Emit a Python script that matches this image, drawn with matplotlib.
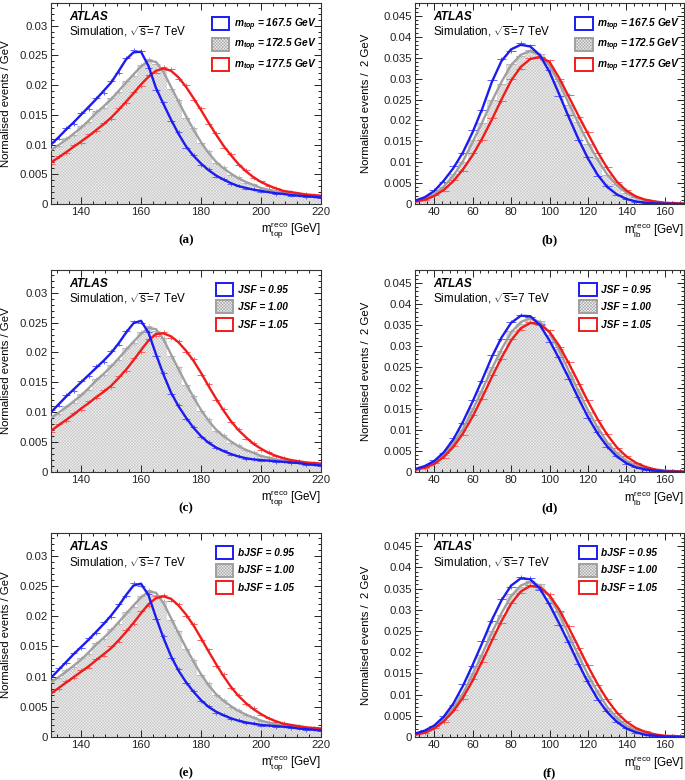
import numpy as np
import matplotlib
matplotlib.use("Agg")
import matplotlib.pyplot as plt
from matplotlib.patches import Patch
from matplotlib.ticker import MultipleLocator, AutoMinorLocator, FuncFormatter

plt.rcParams['font.family'] = ['Liberation Sans', 'DejaVu Sans']
plt.rcParams['mathtext.fontset'] = 'custom'
plt.rcParams['mathtext.rm'] = 'Liberation Sans'
plt.rcParams['mathtext.it'] = 'Liberation Sans:italic:bold'
plt.rcParams['mathtext.bf'] = 'Liberation Sans:bold'
plt.rcParams['hatch.linewidth'] = 0.35

# ---------------- data: m_top^reco (x = 130 ... 220, step 2.5 GeV) -------------
mtop_x = np.arange(130, 220.1, 2.5)

mtop_nom_fit = [0.0091, 0.0099, 0.0108, 0.0118, 0.0128, 0.0140, 0.0153, 0.0164, 0.0176, 0.0190,
                0.0204, 0.0218, 0.0231, 0.0241, 0.0239, 0.0222, 0.0197, 0.0172, 0.0148, 0.0125,
                0.0104, 0.0086, 0.0071, 0.0060, 0.0051, 0.0043, 0.0037, 0.0032, 0.0027, 0.0024,
                0.0021, 0.0019, 0.0017, 0.0016, 0.0015, 0.0014, 0.0013]
mtop_nom_data = [0.0094, 0.0097, 0.0111, 0.0116, 0.0131, 0.0138, 0.0156, 0.0162, 0.0179, 0.0188,
                 0.0207, 0.0216, 0.0234, 0.0244, 0.0236, 0.0225, 0.0194, 0.0175, 0.0145, 0.0128,
                 0.0102, 0.0089, 0.0069, 0.0062, 0.0049, 0.0045, 0.0036, 0.0033, 0.0026, 0.0025,
                 0.0020, 0.0020, 0.0016, 0.0017, 0.0014, 0.0015, 0.0012]

# (a) m_top variations
a_blue_fit = [0.0100, 0.0112, 0.0125, 0.0137, 0.0150, 0.0163, 0.0176, 0.0190, 0.0204, 0.0223,
              0.0243, 0.0255, 0.0256, 0.0232, 0.0195, 0.0168, 0.0142, 0.0118, 0.0097, 0.0081,
              0.0068, 0.0057, 0.0048, 0.0041, 0.0035, 0.0030, 0.0027, 0.0024, 0.0022, 0.0020,
              0.0018, 0.0017, 0.0015, 0.0014, 0.0013, 0.0012, 0.0011]
a_blue_data = [0.0104, 0.0110, 0.0128, 0.0135, 0.0153, 0.0160, 0.0179, 0.0187, 0.0207, 0.0220,
               0.0246, 0.0259, 0.0258, 0.0229, 0.0192, 0.0171, 0.0139, 0.0121, 0.0095, 0.0083,
               0.0066, 0.0059, 0.0046, 0.0042, 0.0034, 0.0031, 0.0026, 0.0025, 0.0021, 0.0021,
               0.0017, 0.0018, 0.0014, 0.0015, 0.0012, 0.0013, 0.0010]
a_red_fit = [0.0070, 0.0078, 0.0087, 0.0096, 0.0105, 0.0114, 0.0124, 0.0134, 0.0145, 0.0158,
             0.0172, 0.0186, 0.0201, 0.0214, 0.0224, 0.0228, 0.0224, 0.0213, 0.0197, 0.0178,
             0.0158, 0.0137, 0.0117, 0.0098, 0.0082, 0.0067, 0.0055, 0.0045, 0.0037, 0.0031,
             0.0026, 0.0022, 0.0020, 0.0018, 0.0016, 0.0015, 0.0014]
a_red_data = [0.0068, 0.0081, 0.0085, 0.0099, 0.0103, 0.0117, 0.0122, 0.0137, 0.0143, 0.0161,
              0.0170, 0.0189, 0.0198, 0.0217, 0.0221, 0.0231, 0.0227, 0.0210, 0.0200, 0.0175,
              0.0161, 0.0134, 0.0120, 0.0095, 0.0084, 0.0065, 0.0057, 0.0044, 0.0038, 0.0030,
              0.0027, 0.0021, 0.0021, 0.0017, 0.0017, 0.0014, 0.0015]

# (c) JSF variations
c_blue_fit = [0.0100, 0.0113, 0.0126, 0.0138, 0.0150, 0.0162, 0.0174, 0.0186, 0.0199, 0.0215,
              0.0233, 0.0249, 0.0253, 0.0233, 0.0197, 0.0163, 0.0133, 0.0110, 0.0091, 0.0074,
              0.0060, 0.0049, 0.0041, 0.0035, 0.0030, 0.0026, 0.0023, 0.0021, 0.0020, 0.0019,
              0.0018, 0.0017, 0.0016, 0.0015, 0.0013, 0.0012, 0.0011]
c_blue_data = [0.0103, 0.0111, 0.0129, 0.0136, 0.0153, 0.0160, 0.0177, 0.0184, 0.0202, 0.0213,
               0.0236, 0.0252, 0.0250, 0.0235, 0.0194, 0.0166, 0.0130, 0.0112, 0.0089, 0.0076,
               0.0058, 0.0051, 0.0040, 0.0036, 0.0029, 0.0027, 0.0022, 0.0022, 0.0019, 0.0020,
               0.0017, 0.0018, 0.0015, 0.0016, 0.0012, 0.0013, 0.0010]
c_red_fit = [0.0069, 0.0078, 0.0087, 0.0096, 0.0106, 0.0115, 0.0125, 0.0134, 0.0144, 0.0157,
             0.0171, 0.0187, 0.0204, 0.0220, 0.0231, 0.0232, 0.0227, 0.0217, 0.0203, 0.0186,
             0.0166, 0.0144, 0.0123, 0.0103, 0.0085, 0.0070, 0.0058, 0.0047, 0.0039, 0.0032,
             0.0027, 0.0023, 0.0020, 0.0018, 0.0016, 0.0015, 0.0014]
c_red_data = [0.0067, 0.0081, 0.0085, 0.0099, 0.0104, 0.0118, 0.0123, 0.0137, 0.0142, 0.0160,
              0.0169, 0.0190, 0.0201, 0.0223, 0.0228, 0.0235, 0.0224, 0.0220, 0.0200, 0.0189,
              0.0163, 0.0147, 0.0120, 0.0106, 0.0083, 0.0072, 0.0056, 0.0049, 0.0037, 0.0034,
              0.0026, 0.0024, 0.0019, 0.0019, 0.0015, 0.0016, 0.0013]

# (e) bJSF variations
e_blue_fit = [0.0098, 0.0111, 0.0124, 0.0137, 0.0149, 0.0161, 0.0174, 0.0187, 0.0201, 0.0217,
              0.0235, 0.0251, 0.0254, 0.0235, 0.0198, 0.0164, 0.0134, 0.0110, 0.0091, 0.0075,
              0.0061, 0.0050, 0.0042, 0.0036, 0.0031, 0.0027, 0.0024, 0.0022, 0.0020, 0.0019,
              0.0018, 0.0017, 0.0016, 0.0014, 0.0013, 0.0012, 0.0011]
e_blue_data = [0.0096, 0.0114, 0.0122, 0.0140, 0.0147, 0.0164, 0.0172, 0.0190, 0.0199, 0.0220,
               0.0233, 0.0255, 0.0251, 0.0237, 0.0195, 0.0167, 0.0131, 0.0113, 0.0089, 0.0077,
               0.0059, 0.0052, 0.0040, 0.0037, 0.0030, 0.0028, 0.0023, 0.0023, 0.0019, 0.0020,
               0.0017, 0.0018, 0.0015, 0.0015, 0.0012, 0.0013, 0.0010]
e_red_fit = [0.0072, 0.0081, 0.0090, 0.0099, 0.0108, 0.0117, 0.0127, 0.0137, 0.0147, 0.0160,
             0.0174, 0.0189, 0.0205, 0.0220, 0.0230, 0.0233, 0.0229, 0.0218, 0.0203, 0.0185,
             0.0164, 0.0142, 0.0121, 0.0101, 0.0083, 0.0068, 0.0056, 0.0046, 0.0038, 0.0031,
             0.0026, 0.0022, 0.0020, 0.0018, 0.0016, 0.0015, 0.0014]
e_red_data = [0.0074, 0.0079, 0.0093, 0.0097, 0.0111, 0.0115, 0.0130, 0.0135, 0.0150, 0.0158,
              0.0177, 0.0187, 0.0208, 0.0217, 0.0233, 0.0236, 0.0226, 0.0221, 0.0200, 0.0188,
              0.0161, 0.0145, 0.0118, 0.0104, 0.0081, 0.0070, 0.0054, 0.0048, 0.0037, 0.0032,
              0.0025, 0.0023, 0.0019, 0.0019, 0.0015, 0.0016, 0.0013]

# ---------------- data: m_lb^reco (x = 30 ... 170, step 5 GeV) -----------------
mlb_x = np.arange(30, 170.1, 5)

mlb_nom_fit = [0.0006, 0.0012, 0.0023, 0.0042, 0.0068, 0.0103, 0.0148, 0.0196, 0.0246, 0.0292,
               0.0332, 0.0357, 0.0366, 0.0357, 0.0331, 0.0290, 0.0241, 0.0193, 0.0147, 0.0106,
               0.0071, 0.0045, 0.0027, 0.0015, 0.0008, 0.0004, 0.0002, 0.0001, 0.00005]
mlb_nom_data = [0.0007, 0.0011, 0.0025, 0.0040, 0.0071, 0.0100, 0.0152, 0.0193, 0.0250, 0.0288,
                0.0336, 0.0353, 0.0369, 0.0360, 0.0327, 0.0294, 0.0237, 0.0197, 0.0144, 0.0109,
                0.0069, 0.0047, 0.0026, 0.0016, 0.0007, 0.0005, 0.0002, 0.0001, 0.0001]

b_blue_fit = [0.0008, 0.0016, 0.0031, 0.0056, 0.0086, 0.0124, 0.0172, 0.0228, 0.0292, 0.0342,
              0.0370, 0.0381, 0.0377, 0.0356, 0.0316, 0.0263, 0.0208, 0.0156, 0.0109, 0.0070,
              0.0041, 0.0023, 0.0012, 0.0006, 0.0003, 0.00015, 0.0001, 0.00005, 0.0]
b_blue_data = [0.0009, 0.0014, 0.0034, 0.0053, 0.0090, 0.0121, 0.0177, 0.0224, 0.0297, 0.0347,
               0.0366, 0.0385, 0.0380, 0.0352, 0.0320, 0.0259, 0.0212, 0.0152, 0.0112, 0.0068,
               0.0043, 0.0022, 0.0013, 0.0005, 0.0003, 0.0001, 0.0001, 0.0, 0.0]
b_red_fit = [0.0005, 0.0010, 0.0019, 0.0034, 0.0055, 0.0083, 0.0117, 0.0157, 0.0202, 0.0250,
             0.0295, 0.0328, 0.0347, 0.0352, 0.0340, 0.0302, 0.0257, 0.0212, 0.0168, 0.0125,
             0.0086, 0.0054, 0.0032, 0.0018, 0.0010, 0.0006, 0.0003, 0.0002, 0.0001]
b_red_data = [0.0006, 0.0009, 0.0021, 0.0032, 0.0058, 0.0080, 0.0121, 0.0153, 0.0206, 0.0246,
              0.0299, 0.0324, 0.0350, 0.0349, 0.0344, 0.0298, 0.0261, 0.0208, 0.0172, 0.0121,
              0.0089, 0.0052, 0.0034, 0.0017, 0.0011, 0.0005, 0.0003, 0.0002, 0.0001]

d_blue_fit = [0.0007, 0.0014, 0.0026, 0.0047, 0.0078, 0.0120, 0.0168, 0.0220, 0.0274, 0.0320,
              0.0355, 0.0372, 0.0371, 0.0350, 0.0313, 0.0270, 0.0224, 0.0176, 0.0131, 0.0092,
              0.0061, 0.0037, 0.0021, 0.0011, 0.0006, 0.0003, 0.0001, 0.00005, 0.0]
d_blue_data = [0.0008, 0.0013, 0.0028, 0.0045, 0.0081, 0.0117, 0.0172, 0.0217, 0.0278, 0.0316,
               0.0358, 0.0375, 0.0368, 0.0353, 0.0310, 0.0273, 0.0221, 0.0179, 0.0128, 0.0095,
               0.0059, 0.0039, 0.0020, 0.0012, 0.0005, 0.0003, 0.0001, 0.0, 0.0]
d_red_fit = [0.0005, 0.0010, 0.0019, 0.0036, 0.0060, 0.0092, 0.0132, 0.0178, 0.0226, 0.0272,
             0.0313, 0.0342, 0.0355, 0.0352, 0.0334, 0.0301, 0.0259, 0.0214, 0.0168, 0.0126,
             0.0089, 0.0059, 0.0037, 0.0022, 0.0012, 0.0006, 0.0003, 0.0002, 0.0001]
d_red_data = [0.0006, 0.0009, 0.0021, 0.0034, 0.0063, 0.0089, 0.0136, 0.0175, 0.0230, 0.0268,
              0.0316, 0.0339, 0.0358, 0.0349, 0.0337, 0.0297, 0.0262, 0.0210, 0.0171, 0.0123,
              0.0091, 0.0057, 0.0038, 0.0021, 0.0013, 0.0005, 0.0003, 0.0002, 0.0001]

f_blue_fit = [0.0008, 0.0015, 0.0027, 0.0048, 0.0079, 0.0121, 0.0170, 0.0222, 0.0276, 0.0322,
              0.0357, 0.0374, 0.0372, 0.0350, 0.0312, 0.0268, 0.0222, 0.0174, 0.0129, 0.0090,
              0.0059, 0.0036, 0.0020, 0.0011, 0.0005, 0.0003, 0.0001, 0.00005, 0.0]
f_blue_data = [0.0007, 0.0016, 0.0025, 0.0050, 0.0076, 0.0124, 0.0167, 0.0226, 0.0273, 0.0326,
               0.0353, 0.0377, 0.0375, 0.0347, 0.0315, 0.0265, 0.0225, 0.0171, 0.0132, 0.0088,
               0.0061, 0.0035, 0.0021, 0.0010, 0.0006, 0.0002, 0.0001, 0.0, 0.0]
f_red_fit = [0.0005, 0.0010, 0.0020, 0.0037, 0.0061, 0.0093, 0.0133, 0.0179, 0.0227, 0.0273,
             0.0314, 0.0343, 0.0356, 0.0353, 0.0334, 0.0301, 0.0258, 0.0213, 0.0167, 0.0125,
             0.0088, 0.0058, 0.0036, 0.0021, 0.0012, 0.0006, 0.0003, 0.0002, 0.0001]
f_red_data = [0.0006, 0.0009, 0.0022, 0.0035, 0.0064, 0.0090, 0.0137, 0.0176, 0.0231, 0.0269,
              0.0317, 0.0340, 0.0359, 0.0350, 0.0338, 0.0298, 0.0262, 0.0209, 0.0170, 0.0122,
              0.0090, 0.0056, 0.0037, 0.0020, 0.0013, 0.0005, 0.0003, 0.0002, 0.0001]

mtop_labels = [r"$m_{top}$ = 167.5 GeV", r"$m_{top}$ = 172.5 GeV", r"$m_{top}$ = 177.5 GeV"]
jsf_labels = ["JSF = 0.95", "JSF = 1.00", "JSF = 1.05"]
bjsf_labels = ["bJSF = 0.95", "bJSF = 1.00", "bJSF = 1.05"]
panel_letters = ["(a)", "(b)", "(c)", "(d)", "(e)", "(f)"]

MTOP_ERR = 0.0003
MLB_ERR = 0.0004

# ---------------- styling ------------------------------------------------------
BLUE = '#1c1cf0'
RED = '#f01c1c'
GREY = '#a0a0a0'
BLUE_D = '#6060ff'
RED_D = '#ff6060'
GREY_D = '#b8b8b8'
FILL_FACE = '#eeeeee'
FILL_HATCH = '#c4c4c4'
HATCH = 'x' * 11

W, H = 685, 780
fig = plt.figure(figsize=(W / 100, H / 100), dpi=100)

rows_px = [(3, 204), (270, 472), (533, 737)]
cols_px = [(51, 321), (415, 684)]


def make_axes(col, row):
    x0, x1 = cols_px[col]
    t, b = rows_px[row]
    return fig.add_axes([x0 / W, 1 - b / H, (x1 - x0) / W, (b - t) / H])


def draw_panel(ax, x, nom_fit, nom_data, blue_fit, blue_data, red_fit, red_data,
               labels, kind, letter, axpx):
    x = np.asarray(x, dtype=float)
    step = x[1] - x[0]
    edges = np.append(x - step / 2, x[-1] + step / 2)
    err = MTOP_ERR if kind == 'top' else MLB_ERR
    # nominal filled histogram (hatched grey)
    ax.stairs(nom_data, edges, fill=True, facecolor=FILL_FACE, edgecolor=FILL_HATCH,
              hatch=HATCH, linewidth=0, zorder=1)
    for fit, data, c, cd in [(nom_fit, nom_data, GREY, GREY_D),
                             (red_fit, red_data, RED, RED_D),
                             (blue_fit, blue_data, BLUE, BLUE_D)]:
        ax.errorbar(x, data, xerr=step / 2, yerr=err, fmt='none', ecolor=cd,
                    elinewidth=0.7, capsize=0, zorder=2)
        ax.plot(x, fit, color=c, lw=1.7, zorder=3, solid_joinstyle='round')

    if kind == 'top':
        ax.set_xlim(130, 220)
        ax.set_ylim(0, 0.0338)
        ax.set_ylabel("Normalised events / GeV", fontsize=8.2)
        xl = r"$\mathrm{m}_{\mathrm{top}}^{\mathrm{reco}}$ [GeV]"
    else:
        ax.set_xlim(30, 170)
        ax.set_ylim(0, 0.0481)
        ax.set_ylabel("Normalised events /  2 GeV", fontsize=8.2)
        xl = r"$\mathrm{m}_{\mathrm{lb}}^{\mathrm{reco}}$ [GeV]"
    ax.xaxis.set_major_locator(MultipleLocator(20))
    ax.yaxis.set_major_locator(MultipleLocator(0.005))
    ax.yaxis.set_major_formatter(FuncFormatter(
        lambda v, p: "0" if abs(v) < 1e-9 else ("%.3f" % v).rstrip('0')))
    ax.xaxis.set_minor_locator(AutoMinorLocator(5))
    ax.yaxis.set_minor_locator(AutoMinorLocator(5))
    ax.tick_params(which='both', direction='in', top=True, right=True,
                   labelsize=8.2, width=0.7, colors='#222222', pad=2.5)
    ax.tick_params(which='major', length=5)
    ax.tick_params(which='minor', length=2.5)
    for s in ax.spines.values():
        s.set_linewidth(0.8)
        s.set_color('#333333')

    wpx = axpx[1] - axpx[0]
    hpx = axpx[3] - axpx[2]
    ax.yaxis.set_label_coords(-(40 if kind == 'top' else 44) / wpx, 0.5)
    ax.set_xlabel(xl, fontsize=8.4, ha='right')
    ax.xaxis.set_label_coords(1.0, -26 / hpx)
    ax.xaxis.label.set_va('center')

    ax.text(0.068, 0.932, "ATLAS", transform=ax.transAxes, fontsize=8.6,
            fontweight='bold', style='italic', va='center', ha='left')
    ax.text(0.068, 0.856, r"Simulation, $\sqrt{\mathrm{s}}$=7 TeV", transform=ax.transAxes,
            fontsize=8.4, va='center', ha='left')

    handles = [Patch(facecolor='white', edgecolor=BLUE, linewidth=1.4),
               Patch(facecolor=FILL_FACE, edgecolor=GREY, linewidth=1.4, hatch=HATCH),
               Patch(facecolor='white', edgecolor=RED, linewidth=1.4)]
    if labels is mtop_labels:
        anchor_x = 0.58
    else:
        anchor_x = 0.595
    ax.legend(handles, labels, loc='upper left', bbox_to_anchor=(anchor_x, 0.955),
              frameon=False, handlelength=1.75, handleheight=1.6,
              labelspacing=0.42, handletextpad=0.45, borderaxespad=0.0,
              prop={'weight': 'bold', 'style': 'italic', 'size': 7.3})

    cx = (axpx[0] + axpx[1]) / 2
    fig.text(cx / W, 1 - (axpx[3] + 36) / H, letter, fontsize=9.5, fontweight='bold',
             family='Liberation Serif', ha='center', va='center')


panels = [
    (0, 0, mtop_x, mtop_nom_fit, mtop_nom_data, a_blue_fit, a_blue_data, a_red_fit, a_red_data, mtop_labels, 'top'),
    (1, 0, mlb_x, mlb_nom_fit, mlb_nom_data, b_blue_fit, b_blue_data, b_red_fit, b_red_data, mtop_labels, 'lb'),
    (0, 1, mtop_x, mtop_nom_fit, mtop_nom_data, c_blue_fit, c_blue_data, c_red_fit, c_red_data, jsf_labels, 'top'),
    (1, 1, mlb_x, mlb_nom_fit, mlb_nom_data, d_blue_fit, d_blue_data, d_red_fit, d_red_data, jsf_labels, 'lb'),
    (0, 2, mtop_x, mtop_nom_fit, mtop_nom_data, e_blue_fit, e_blue_data, e_red_fit, e_red_data, bjsf_labels, 'top'),
    (1, 2, mlb_x, mlb_nom_fit, mlb_nom_data, f_blue_fit, f_blue_data, f_red_fit, f_red_data, bjsf_labels, 'lb'),
]

for i, (col, row, x, nf, nd, bf, bd, rf, rd, labs, kind) in enumerate(panels):
    ax = make_axes(col, row)
    axpx = (cols_px[col][0], cols_px[col][1], rows_px[row][0], rows_px[row][1])
    draw_panel(ax, x, nf, nd, bf, bd, rf, rd, labs, kind, panel_letters[i], axpx)

fig.savefig("out.png", dpi=100)
